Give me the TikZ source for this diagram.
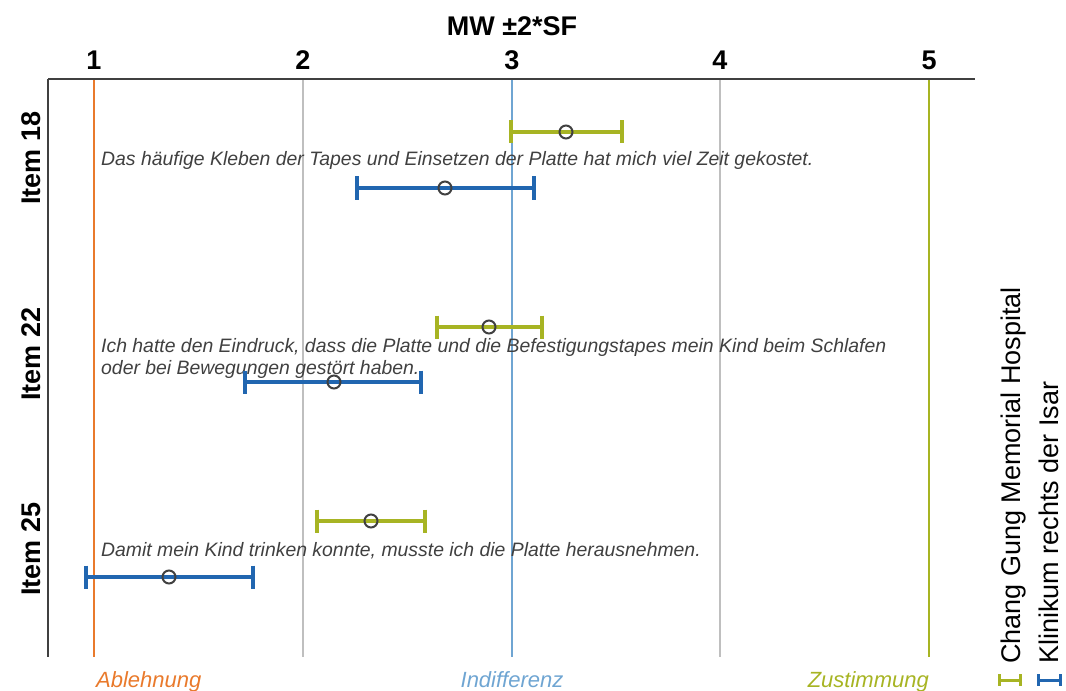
\documentclass[tikz,border=0pt]{standalone}
\usepackage{fontspec}
\setmainfont{Liberation Sans}
\definecolor{axisgray}{HTML}{404040}
\definecolor{gridgray}{HTML}{BFBFBF}
\definecolor{loworange}{HTML}{E97A2C}
\definecolor{midblue}{HTML}{6FA5D2}
\definecolor{higholive}{HTML}{A7B423}
\definecolor{barblue}{HTML}{2166B0}
\definecolor{textgray}{HTML}{404040}
\newcommand{\ebar}[5]{% colour, row y, lower end, mean, upper end
  \draw[errline,#1] (#3,#2) -- (#5,#2);
  \draw[errline,#1] (#3,#2-11.5) -- (#3,#2+11.5);
  \draw[errline,#1] (#5,#2-11.5) -- (#5,#2+11.5);
  \draw[meanmark] (#4,#2) circle[radius=6.5bp];}
\begin{document}
\begin{tikzpicture}[x=1bp,y=-1bp,
  errline/.style={line width=3.2bp},
  meanmark/.style={draw=axisgray,line width=2bp},
  gridline/.style={line width=2bp},
  ticklabel/.style={font=\fontsize{27bp}{30bp}\selectfont\bfseries,anchor=base},
  itemlabel/.style={font=\fontsize{27bp}{30bp}\selectfont\bfseries,rotate=90,anchor=base,inner sep=0pt},
  statement/.style={font=\fontsize{19.4bp}{22bp}\selectfont\itshape,text=textgray,anchor=base west,inner sep=0pt,align=left},
  scalelabel/.style={font=\fontsize{22bp}{24bp}\selectfont\itshape,anchor=base,inner sep=0pt},
  legendtext/.style={font=\fontsize{27bp}{30bp}\selectfont,rotate=90,anchor=base west,inner sep=0pt},
  legendbar/.style={line width=3bp}]
\useasboundingbox (0,0) rectangle (1066,691);

% scale lines at 1..5
\draw[gridline,loworange] (94,79) -- (94,657);
\draw[gridline,gridgray] (303,79) -- (303,657);
\draw[gridline,midblue] (512,79) -- (512,657);
\draw[gridline,gridgray] (720,79) -- (720,657);
\draw[gridline,higholive] (929,79) -- (929,657);

% axes
\draw[axisgray,line width=2bp] (48,79) -- (975,79);
\draw[axisgray,line width=1.6bp] (48,79) -- (48,657);

% title and tick labels
\node[font=\fontsize{27bp}{30bp}\selectfont\bfseries,anchor=base] (title) at (512,36) {MW ±2*SF};
\node[ticklabel] (t1) at (94,70) {1};
\node[ticklabel] (t2) at (303,70) {2};
\node[ticklabel] (t3) at (512,70) {3};
\node[ticklabel] (t4) at (720,70) {4};
\node[ticklabel] (t5) at (929,70) {5};

% item labels
\node[itemlabel] (i18) at (40,158) {Item 18};
\node[itemlabel] (i22) at (40,354) {Item 22};
\node[itemlabel] (i25) at (40,549) {Item 25};

% statements
\node[statement] (s18) at (101,166) {Das häufige Kleben der Tapes und Einsetzen der Platte hat mich viel Zeit gekostet.};
\node[statement] (s22a) at (101,352) {Ich hatte den Eindruck, dass die Platte und die Befestigungstapes mein Kind beim Schlafen};
\node[statement] (s22b) at (101,374) {oder bei Bewegungen gestört haben.};
\node[statement] (s25) at (101,556) {Damit mein Kind trinken konnte, musste ich die Platte herausnehmen.};

% error bars: mean +- 2 SE
\ebar{higholive}{132}{511}{566}{622}
\ebar{barblue}{188}{357}{445}{534}
\ebar{higholive}{327}{437}{489}{542}
\ebar{barblue}{382}{245}{334}{421}
\ebar{higholive}{521}{317}{371}{425}
\ebar{barblue}{577}{86}{169}{253}

% scale anchors
\node[scalelabel,text=loworange,anchor=base west] (lo) at (96,687) {Ablehnung};
\node[scalelabel,text=midblue] (mid) at (512,687) {Indifferenz};
\node[scalelabel,text=higholive,anchor=base east] (hi) at (929,687) {Zustimmung};

% legend
\node[legendtext] (lgA) at (1020,664) {Chang Gung Memorial Hospital};
\node[legendtext] (lgB) at (1058,664) {Klinikum rechts der Isar};
\draw[legendbar,higholive] (998,680) -- (1022,680);
\draw[legendbar,higholive] (999.5,674) -- (999.5,686);
\draw[legendbar,higholive] (1020.5,674) -- (1020.5,686);
\draw[legendbar,barblue] (1037,680) -- (1062,680);
\draw[legendbar,barblue] (1038.5,674) -- (1038.5,686);
\draw[legendbar,barblue] (1060.5,674) -- (1060.5,686);
\end{tikzpicture}
\end{document}
